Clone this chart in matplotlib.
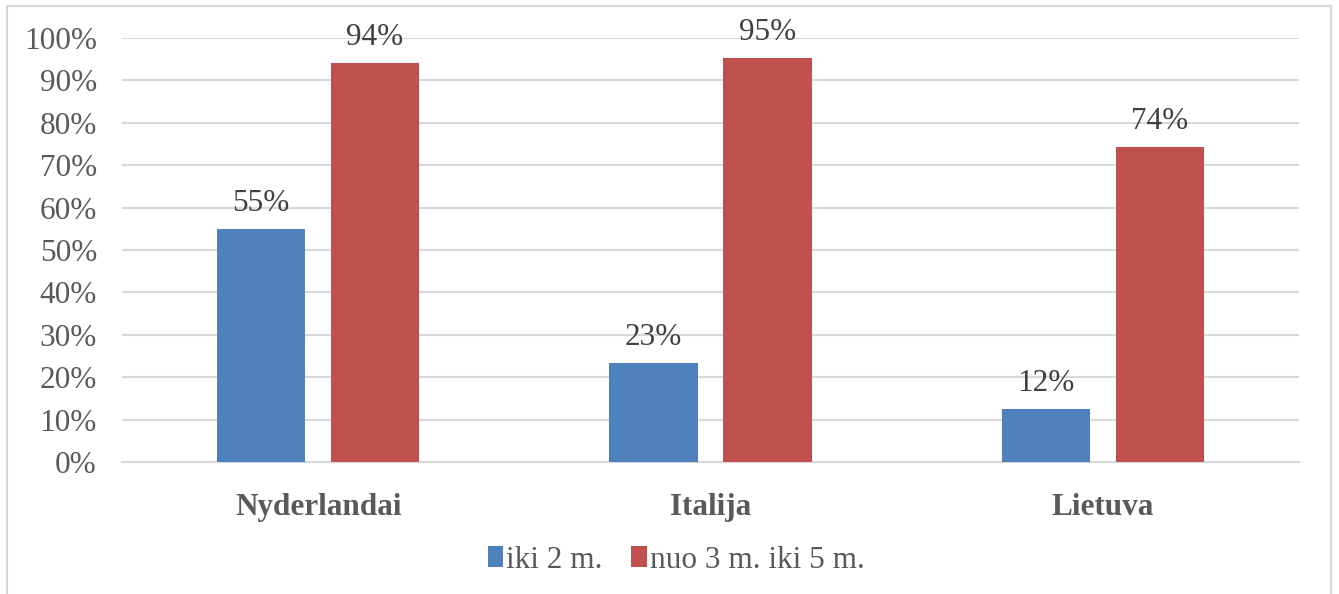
import matplotlib
matplotlib.use("Agg")
import matplotlib.pyplot as plt
import numpy as np
from matplotlib.patches import Rectangle

categories = ["Nyderlandai", "Italija", "Lietuva"]
series_names = ["iki 2 m.", "nuo 3 m. iki 5 m."]
iki2 = [55.0, 23.4, 12.4]
nuo3 = [94.2, 95.2, 74.4]
labels_iki2 = ["55%", "23%", "12%"]
labels_nuo3 = ["94%", "95%", "74%"]
yticks = [0, 10, 20, 30, 40, 50, 60, 70, 80, 90, 100]

plt.rcParams['font.family'] = ['Liberation Serif', 'DejaVu Serif']
txt = '#595959'
fs = 22.5

fig = plt.figure(figsize=(13.39, 5.94), dpi=100)
W, H = 1339, 594
ax = fig.add_axes([122 / W, 1 - 462 / H, (1299 - 122) / W, (462 - 38) / H])

x = np.arange(len(categories))
bw = 0.225
off = 0.145
b1 = ax.bar(x - off, iki2, bw, color='#4F81BD', label=series_names[0], zorder=3)
b2 = ax.bar(x + off, nuo3, bw, color='#C0504D', label=series_names[1], zorder=3)

for rect, lab in zip(b1, labels_iki2):
    ax.text(rect.get_x() + rect.get_width() / 2, rect.get_height() + 2.6, lab,
            ha='center', va='bottom', fontsize=fs, color='#404040')
for rect, lab in zip(b2, labels_nuo3):
    ax.text(rect.get_x() + rect.get_width() / 2, rect.get_height() + 2.6, lab,
            ha='center', va='bottom', fontsize=fs, color='#404040')

ax.set_xlim(-0.5, 2.5)
ax.set_ylim(0, 100)
ax.set_yticks(yticks)
ax.set_yticklabels([f"{v}%" for v in yticks], fontsize=fs, color=txt)
ax.set_xticks(x)
ax.set_xticklabels(categories, fontsize=fs, fontweight='bold', color=txt)
ax.tick_params(axis='both', length=0)
ax.tick_params(axis='y', pad=18)
ax.tick_params(axis='x', pad=22)
ax.grid(axis='y', color='#D9D9D9', linewidth=1.5, zorder=0)
for s in ['top', 'right', 'left']:
    ax.spines[s].set_visible(False)
ax.spines['bottom'].set_color('#D9D9D9')
ax.spines['bottom'].set_linewidth(1.5)

leg = fig.legend(handles=[b1, b2], loc='center', bbox_to_anchor=(676 / W, 1 - 560 / H),
                 ncol=2, frameon=False, fontsize=fs, handlelength=0.5, handleheight=0.65,
                 handletextpad=0.1, columnspacing=0.9)
for t in leg.get_texts():
    t.set_color(txt)

fig.patches.append(Rectangle((7 / W, -0.05), (1331 - 7) / W, 1 - 6 / H + 0.05,
                             transform=fig.transFigure, fill=False,
                             edgecolor='#D9D9D9', linewidth=1.5))

fig.savefig("out.png", dpi=100)
